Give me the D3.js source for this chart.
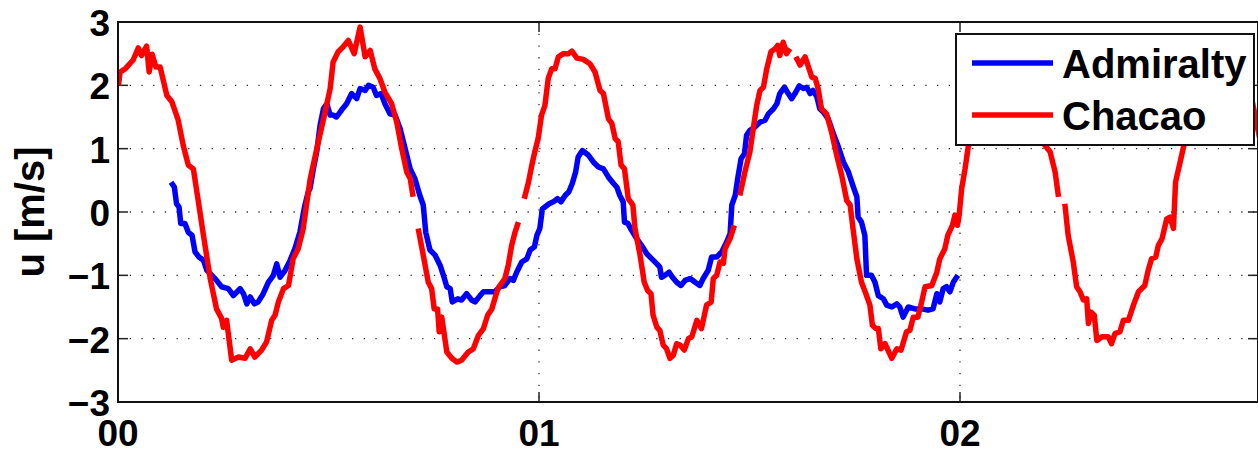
<!DOCTYPE html>
<html>
<head>
<meta charset="utf-8">
<script src="https://cdnjs.cloudflare.com/ajax/libs/d3/7.8.5/d3.min.js"></script>
<style>
body { margin: 0; background: white; }
svg { display: block; }
text { font-family: "Liberation Sans", Arial, Helvetica, sans-serif; font-weight: bold; }
</style>
</head>
<body>
<svg></svg>
<script>
var w = 1258
var h = 453

// time in days, velocity in m/s (null = gap in record)
var chacaoT = [0.001,0.005,0.017,0.036,0.048,0.056,0.068,0.074,0.081,0.090,0.100,0.116,0.128,0.143,0.155,0.167,0.179,0.191,0.203,0.219,
  0.234,0.246,0.250,0.258,0.270,0.286,0.302,0.314,0.325,0.341,0.353,0.365,0.373,0.381,0.393,0.405,0.416,0.428,0.440,0.456,
  0.460,0.476,0.492,0.504,0.511,0.523,0.535,0.547,0.561,0.575,0.587,0.599,0.610,0.622,0.634,0.650,0.662,0.674,0.686,0.694,
  0.701,0.707,0.713,0.725,0.737,0.745,0.751,0.759,0.763,0.769,0.781,0.793,0.805,0.816,0.832,0.844,0.856,0.868,0.878,0.888,
  0.900,0.905,0.919,0.927,0.935,0.943,0.951,0.958,0.965,0.975,0.983,0.990,0.998,1.006,1.014,1.022,1.030,1.038,1.046,1.058,
  1.070,1.078,1.090,1.105,1.121,1.133,1.145,1.153,1.165,1.173,1.181,1.188,1.195,1.203,1.212,1.223,1.228,1.240,1.250,1.258,
  1.266,1.271,1.280,1.287,1.295,1.303,1.311,1.319,1.327,1.335,1.345,1.355,1.363,1.375,1.386,1.398,1.409,1.414,1.422,1.430,
  1.438,1.442,1.454,1.464,1.470,1.477,1.489,1.501,1.509,1.517,1.525,1.533,1.541,1.551,1.561,1.567,1.572,1.580,1.588,1.596,
  1.603,1.610,1.620,1.632,1.640,1.648,1.656,1.663,1.671,1.683,1.695,1.707,1.719,1.731,1.739,1.747,1.755,1.766,1.778,1.786,
  1.792,1.800,1.806,1.812,1.822,1.838,1.850,1.860,1.873,1.881,1.889,1.900,1.909,1.917,1.933,1.945,1.952,1.964,1.971,1.982,
  1.988,1.994,1.998,2.004,2.012,2.020,2.036,2.059,2.083,2.107,2.131,2.154,2.178,2.195,2.202,2.214,2.226,2.234,2.241,2.249,
  2.257,2.269,2.277,2.285,2.293,2.301,2.305,2.311,2.319,2.325,2.337,2.352,2.360,2.368,2.380,2.388,2.400,2.412,2.424,2.439,
  2.447,2.455,2.465,2.471,2.480,2.491,2.499,2.507,2.512,2.523,2.530,2.558,2.594,2.629,2.665,2.689,2.703,2.717]
var chacaoU = [2.00,2.21,2.26,2.40,2.59,2.47,2.62,2.21,2.49,2.29,2.29,1.84,1.74,1.45,1.05,0.74,0.68,0.16,-0.37,-1.05,
  -1.53,-1.68,-1.82,-1.71,-2.34,-2.29,-2.31,-2.16,-2.29,-2.18,-2.05,-1.71,-1.63,-1.42,-1.21,-1.16,-0.74,-0.58,-0.26,0.50,
  0.63,1.11,1.58,1.95,2.37,2.53,2.61,2.71,2.50,2.92,2.45,2.55,2.26,2.11,1.89,1.71,1.42,1.00,0.63,0.53,
  0.24,null,-0.26,-0.68,-1.11,-1.21,-1.53,-1.53,-1.89,-1.66,-2.21,-2.31,-2.37,-2.34,-2.21,-2.16,-1.95,-1.84,-1.63,-1.53,
  -1.26,-1.18,-1.05,-0.84,-0.53,-0.32,-0.16,null,0.21,0.47,0.74,0.95,1.16,1.53,1.68,2.11,2.26,2.26,2.45,2.50,
  2.50,2.54,2.43,2.41,2.34,2.21,1.92,1.87,1.47,1.40,1.16,1.11,0.74,0.68,0.21,0.11,-0.26,-0.68,-1.11,-1.24,
  -1.29,-1.63,-1.82,-1.87,-2.10,-2.16,-2.31,-2.26,-2.08,-2.10,-2.18,-2.00,-1.97,-1.71,-1.84,-1.47,-1.42,-1.05,-1.00,-0.79,
  -0.81,-0.58,-0.42,-0.21,null,0.26,0.63,0.95,1.32,1.68,1.92,1.97,2.26,2.53,2.58,2.63,2.47,2.68,2.50,2.58,
  null,2.45,2.32,2.45,2.29,2.13,2.11,1.95,1.63,1.55,1.26,0.90,0.58,0.18,0.11,-0.32,-0.74,-1.11,-1.32,-1.47,
  -1.79,-1.84,-1.84,-2.16,-2.08,-2.31,-2.16,-2.18,-1.89,-1.87,-1.66,-1.66,-1.42,-1.18,-1.16,-0.95,-0.74,-0.58,-0.37,-0.21,
  -0.05,-0.21,-0.05,0.37,0.68,1.05,1.60,2.16,2.47,2.58,2.55,2.32,1.84,1.37,1.05,0.95,0.63,0.24,null,0.13,
  -0.37,-0.79,-1.18,-1.26,-1.39,-1.37,-1.76,-1.58,-1.63,-2.03,-1.97,-1.97,-2.08,-1.92,-1.89,-1.71,-1.71,-1.47,-1.26,-1.16,
  -0.92,-0.74,-0.71,-0.53,-0.42,-0.11,-0.08,-0.26,0.47,0.79,1.00,1.76,2.40,2.55,2.40,1.92,1.45,1.00]

var admiraltyT = [0.126,0.134,0.139,0.145,0.149,0.159,0.167,0.176,0.183,0.192,0.203,0.211,0.223,0.234,0.246,0.262,0.274,0.290,0.298,0.306,
  0.314,0.324,0.333,0.345,0.357,0.369,0.377,0.385,0.397,0.409,0.420,0.432,0.443,0.452,0.456,0.464,0.472,0.480,0.488,0.496,
  0.504,0.511,0.519,0.531,0.543,0.555,0.567,0.575,0.587,0.595,0.606,0.614,0.625,0.634,0.646,0.658,0.670,0.682,0.694,0.705,
  0.717,0.725,0.731,0.741,0.753,0.765,0.773,0.781,0.789,0.794,0.807,0.816,0.828,0.840,0.848,0.860,0.868,0.884,0.895,0.907,
  0.919,0.931,0.939,0.947,0.959,0.971,0.979,0.989,0.995,1.002,1.008,1.014,1.024,1.034,1.044,1.052,1.062,1.071,1.079,1.087,
  1.093,1.103,1.117,1.129,1.141,1.153,1.165,1.177,1.185,1.192,1.200,1.203,1.211,1.220,1.232,1.244,1.256,1.268,1.280,1.287,
  1.291,1.299,1.309,1.317,1.327,1.337,1.347,1.359,1.371,1.382,1.390,1.402,1.410,1.422,1.434,1.446,1.454,1.458,1.466,1.472,
  1.480,1.488,1.493,1.501,1.513,1.525,1.537,1.545,1.557,1.565,1.572,1.583,1.592,1.600,1.608,1.618,1.628,1.636,1.644,1.651,
  1.660,1.667,1.675,1.687,1.699,1.711,1.723,1.735,1.747,1.755,1.758,1.766,1.774,1.778,1.790,1.798,1.806,1.818,1.826,1.838,
  1.850,1.857,1.865,1.877,1.893,1.909,1.924,1.936,1.945,1.952,1.960,1.968,1.976,1.984,1.995]
var admiraltyU = [0.47,0.39,0.13,0.08,-0.18,-0.18,-0.32,-0.37,-0.63,-0.71,-0.76,-0.92,-1.00,-1.08,-1.18,-1.21,-1.32,-1.21,-1.29,-1.45,
  -1.34,-1.45,-1.42,-1.29,-1.11,-1.00,-0.82,-1.03,-0.92,-0.76,-0.58,-0.32,0.08,0.32,0.37,0.68,0.95,1.37,1.63,1.71,
  1.53,1.53,1.50,1.61,1.71,1.87,1.79,1.95,1.92,2.00,1.97,1.84,1.87,1.71,1.55,1.53,1.32,1.00,0.68,0.53,
  0.26,0.11,-0.32,-0.60,-0.68,-0.84,-1.00,-1.18,-1.21,-1.42,-1.37,-1.39,-1.29,-1.39,-1.42,-1.32,-1.26,-1.26,-1.26,-1.18,
  -1.16,-1.05,-1.08,-0.95,-0.79,-0.74,-0.60,-0.55,-0.37,-0.26,0.05,0.08,0.13,0.16,0.21,0.16,0.26,0.32,0.45,0.63,
  0.87,0.97,0.90,0.79,0.71,0.68,0.55,0.45,0.39,0.26,0.16,-0.16,-0.18,-0.29,-0.42,-0.53,-0.66,-0.74,-0.82,-0.87,
  -1.03,-1.00,-0.95,-1.03,-1.11,-1.16,-1.08,-1.05,-1.11,-1.16,-1.05,-0.92,-0.71,-0.71,-0.63,-0.47,-0.34,0.11,0.26,0.53,
  0.84,0.92,1.21,1.29,1.34,1.42,1.45,1.55,1.63,1.71,1.87,1.97,1.87,1.79,1.87,1.99,1.95,1.97,1.87,1.92,
  1.82,1.63,1.58,1.47,1.24,1.03,0.79,0.63,0.39,0.24,-0.08,-0.16,-0.37,-1.00,-1.00,-1.11,-1.32,-1.37,-1.47,-1.50,
  -1.45,-1.50,-1.66,-1.50,-1.53,-1.53,-1.55,-1.53,-1.29,-1.42,-1.21,-1.18,-1.26,-1.11,-1.00]

var xTicks = [0, 1, 2]
var xTickLabels = ["00", "01", "02"]
var yTicks = [-3, -2, -1, 0, 1, 2, 3]
var seriesNames = ["Admiralty", "Chacao"]
var seriesColors = ["#0000ff", "#ff0000"]

// axes box in pixels (window.top is read-only, so no "top" here)
var axL = 118, axT = 22, axR = 1258, axB = 402

var x = d3.scaleLinear().domain([0, (axR - axL) / 421]).range([axL, axR])
var y = d3.scaleLinear().domain([-3, 3]).range([axB, axT])

var svg = d3.select("svg")
  .attr("width", w)
  .attr("height", h)
  .style("background-color", "white")

svg.append("defs").append("clipPath")
  .attr("id", "plotClip")
  .append("rect")
  .attr("x", axL).attr("y", axT)
  .attr("width", axR - axL).attr("height", axB - axT)

// dotted grid
var grid = svg.append("g").attr("class", "grid")
grid.selectAll("line.gy")
  .data(yTicks.slice(1, -1))
  .enter().append("line")
  .attr("x1", axL).attr("x2", axR)
  .attr("y1", function(d){ return y(d) }).attr("y2", function(d){ return y(d) })
grid.selectAll("line.gx")
  .data(xTicks.slice(1))
  .enter().append("line")
  .attr("x1", function(d){ return x(d) }).attr("x2", function(d){ return x(d) })
  .attr("y1", axT).attr("y2", axB)
grid.selectAll("line")
  .attr("stroke", "#333")
  .attr("stroke-width", 1.3)
  .attr("stroke-dasharray", "1.3,10.4")

// tick marks (inward, on all four sides)
var ticks = svg.append("g")
yTicks.forEach(function(d){
  ticks.append("line").attr("x1", axL).attr("x2", axL + 10).attr("y1", y(d)).attr("y2", y(d))
  ticks.append("line").attr("x1", axR).attr("x2", axR - 10).attr("y1", y(d)).attr("y2", y(d))
})
xTicks.forEach(function(d){
  ticks.append("line").attr("x1", x(d)).attr("x2", x(d)).attr("y1", axB).attr("y2", axB - 10)
  ticks.append("line").attr("x1", x(d)).attr("x2", x(d)).attr("y1", axT).attr("y2", axT + 10)
})
ticks.selectAll("line").attr("stroke", "#222").attr("stroke-width", 1.5)

// data lines
var chacao = chacaoT.map(function(t, i){ return {t: t, u: chacaoU[i]} })
var admiralty = admiraltyT.map(function(t, i){ return {t: t, u: admiraltyU[i]} })

var lineMaker = d3.line()
  .defined(function(d){ return d.u != null })
  .x(function(d){ return x(d.t) })
  .y(function(d){ return y(d.u) })

var plot = svg.append("g").attr("clip-path", "url(#plotClip)")
plot.append("path")
  .attr("d", lineMaker(admiralty))
  .attr("fill", "none")
  .attr("stroke", seriesColors[0])
  .attr("stroke-width", 5.5)
  .attr("stroke-linejoin", "round")
plot.append("path")
  .attr("d", lineMaker(chacao))
  .attr("fill", "none")
  .attr("stroke", seriesColors[1])
  .attr("stroke-width", 5.5)
  .attr("stroke-linejoin", "round")

// axes box
svg.append("rect")
  .attr("x", axL).attr("y", axT)
  .attr("width", axR - axL).attr("height", axB - axT)
  .attr("fill", "none")
  .attr("stroke", "#111")
  .attr("stroke-width", 2)

// tick labels
svg.selectAll("text.ytick")
  .data(yTicks)
  .enter().append("text")
  .attr("class", "ytick")
  .attr("x", axL - 8)
  .attr("y", function(d){ return y(d) + 14 })
  .attr("text-anchor", "end")
  .style("font-size", "37px")
  .text(function(d){ return d < 0 ? "\u2212" + Math.abs(d) : "" + d })

svg.selectAll("text.xtick")
  .data(xTicks)
  .enter().append("text")
  .attr("class", "xtick")
  .attr("x", function(d){ return x(d) })
  .attr("y", 446)
  .attr("text-anchor", "middle")
  .style("font-size", "37px")
  .text(function(d, i){ return xTickLabels[i] })

svg.append("text")
  .attr("transform", "translate(44," + y(0) + ") rotate(-90)")
  .attr("text-anchor", "middle")
  .style("font-size", "40px")
  .text("u [m/s]")

// legend
var legend = svg.append("g")
legend.append("rect")
  .attr("x", 956).attr("y", 34)
  .attr("width", 298).attr("height", 111)
  .attr("fill", "white")
  .attr("stroke", "#111")
  .attr("stroke-width", 2)
seriesNames.forEach(function(name, i){
  var ly = 63 + i * 52
  legend.append("line")
    .attr("x1", 972).attr("x2", 1053)
    .attr("y1", ly).attr("y2", ly)
    .attr("stroke", seriesColors[i])
    .attr("stroke-width", 5.5)
  legend.append("text")
    .attr("x", 1062)
    .attr("y", ly + 15)
    .style("font-size", "40px")
    .text(name)
})
</script>
</body>
</html>
